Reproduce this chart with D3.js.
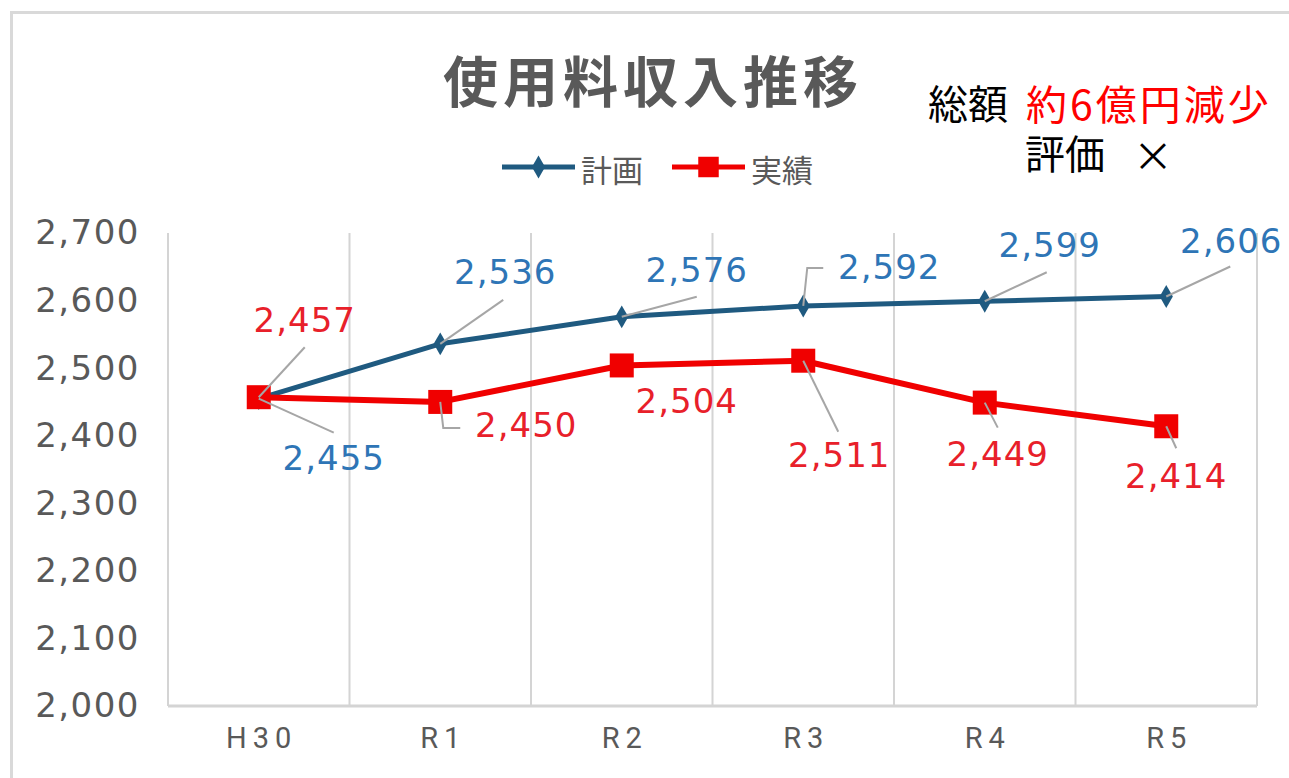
<!DOCTYPE html>
<html>
<head>
<meta charset="utf-8">
<script src="https://cdn.jsdelivr.net/npm/d3@7"></script>
<style>
  body { margin: 0; background: #fff; }
  text { font-family: "DejaVu Sans", sans-serif; }
  .jp { font-family: "Noto Sans CJK JP", sans-serif; }
</style>
</head>
<body>
<div id="chart"></div>
<script>
// data
var years = ["H30", "R1", "R2", "R3", "R4", "R5"];
var plan = [2455, 2536, 2576, 2592, 2599, 2606];
var actual = [2457, 2450, 2504, 2511, 2449, 2414];
var yTicks = [2000, 2100, 2200, 2300, 2400, 2500, 2600, 2700];

// label placement relative to each point: [dx, dy] of text, leader points
var planLabelPos = [
  {t: [75, 59], lead: [[75, 34]]},
  {t: [65, -72], lead: [[63, -44]]},
  {t: [75, -47], lead: [[75, -20]]},
  {t: [86, -39], lead: [[4, -38], [20, -38]]},
  {t: [65, -56], lead: [[62, -29]]},
  {t: [65, -56], lead: [[64, -30]]}
];
var actualLabelPos = [
  {t: [46, -77], lead: [[46, -50]]},
  {t: [86, 23], lead: [[3, 26], [20, 26]]},
  {t: [65, 35], lead: []},
  {t: [36, 94], lead: [[35, 71]]},
  {t: [13, 51], lead: [[13, 25]]},
  {t: [10, 50], lead: [[10, 22]]}
];

var W = 1289, H = 778;
var margin = {top: 233, right: 32, bottom: 72, left: 168};

var svg = d3.select("#chart")
  .append("svg")
    .attr("width", W)
    .attr("height", H);

// chart frame
svg.append("rect")
  .attr("x", 11.5).attr("y", 12.5)
  .attr("width", W + 20).attr("height", H + 20)
  .attr("fill", "#fff")
  .attr("stroke", "#d9d9d9")
  .attr("stroke-width", 3);

var x = d3.scaleBand()
  .domain(years)
  .range([margin.left, W - margin.right])
  .paddingInner(0).paddingOuter(0);

var y = d3.scaleLinear()
  .domain([2000, 2700])
  .range([H - margin.bottom, margin.top]);

var cx = function(i) { return x(years[i]) + x.bandwidth() / 2; };

// vertical gridlines on category boundaries
var bounds = years.map(function(d) { return x(d); }).concat([x.range()[1]]);
svg.append("g")
  .selectAll("line")
  .data(bounds)
  .enter()
  .append("line")
    .attr("x1", d => d).attr("x2", d => d)
    .attr("y1", y(2700)).attr("y2", y(2000))
    .attr("stroke", "#d4d4d4")
    .attr("stroke-width", 2);

// bottom axis line
svg.append("line")
  .attr("x1", margin.left).attr("x2", x.range()[1])
  .attr("y1", y(2000)).attr("y2", y(2000))
  .attr("stroke", "#d4d4d4")
  .attr("stroke-width", 3);

// y axis labels
var yAxis = svg.append("g")
  .attr("transform", "translate(" + margin.left + ",0)")
  .call(d3.axisLeft(y).tickValues(yTicks).tickFormat(d3.format(",")).tickSize(0).tickPadding(28));
yAxis.select(".domain").remove();
yAxis.selectAll("text")
  .attr("fill", "#595959")
  .style("font-size", "34px")
  .style("letter-spacing", "1.5px")
  .style("font-family", "DejaVu Sans, sans-serif");

// x axis labels
var xAxis = svg.append("g")
  .attr("transform", "translate(0," + y(2000) + ")")
  .call(d3.axisBottom(x).tickSize(0).tickPadding(21));
xAxis.select(".domain").remove();
xAxis.selectAll("text")
  .attr("fill", "#595959")
  .style("font-size", "29px")
  .style("letter-spacing", "6px")
  .style("font-family", "Roboto, sans-serif")
  .attr("dx", "3px");

// title
svg.append("text")
  .attr("class", "jp")
  .attr("x", 653).attr("y", 78)
  .attr("text-anchor", "middle")
  .attr("dominant-baseline", "central")
  .attr("fill", "#595959")
  .style("font-size", "55px")
  .style("font-weight", "bold")
  .style("letter-spacing", "5px")
  .text("使用料収入推移");

// legend
var legend = [
  {name: "計画", color: "#1f5a80", shape: d3.symbolDiamond, size: 150, x: 502},
  {name: "実績", color: "#f00000", shape: d3.symbolSquare, size: 420, x: 672}
];
var lg = svg.append("g").selectAll("g").data(legend).enter().append("g");
lg.append("line")
  .attr("x1", d => d.x).attr("x2", d => d.x + 73)
  .attr("y1", 167).attr("y2", 167)
  .attr("stroke", d => d.color).attr("stroke-width", 5);
lg.append("path")
  .attr("d", d => d3.symbol().type(d.shape).size(d.size)())
  .attr("transform", d => "translate(" + (d.x + 36.5) + ",167)")
  .attr("fill", d => d.color);
lg.append("text")
  .attr("class", "jp")
  .attr("x", d => d.x + 79).attr("y", 168)
  .attr("dominant-baseline", "central")
  .attr("fill", "#595959")
  .style("font-size", "31px")
  .text(d => d.name);

// annotation
svg.append("text")
  .attr("class", "jp")
  .attr("x", 928).attr("y", 102)
  .attr("dominant-baseline", "central")
  .attr("fill", "#000")
  .style("font-size", "40px")
  .text("総額");
svg.append("text")
  .attr("class", "jp")
  .attr("x", 1026).attr("y", 102)
  .attr("dominant-baseline", "central")
  .attr("fill", "#ff0000")
  .style("font-size", "41px")
  .style("letter-spacing", "3px")
  .text("約6億円減少");
svg.append("text")
  .attr("class", "jp")
  .attr("x", 1025).attr("y", 152)
  .attr("dominant-baseline", "central")
  .attr("fill", "#000")
  .style("font-size", "40px")
  .text("評価");
svg.append("text")
  .attr("class", "jp")
  .attr("x", 1153).attr("y", 154)
  .attr("text-anchor", "middle")
  .attr("dominant-baseline", "central")
  .attr("fill", "#000")
  .style("font-size", "40px")
  .text("×");

// lines
var line = d3.line()
  .x(function(d, i) { return cx(i); })
  .y(function(d) { return y(d); });

svg.append("path")
  .datum(plan)
  .attr("d", line)
  .attr("fill", "none")
  .attr("stroke", "#1f5a80")
  .attr("stroke-width", 5)
  .attr("stroke-linejoin", "round");

svg.append("g")
  .selectAll("path")
  .data(plan)
  .enter()
  .append("path")
    .attr("d", d3.symbol().type(d3.symbolDiamond).size(150)())
    .attr("transform", (d, i) => "translate(" + cx(i) + "," + y(d) + ")")
    .attr("fill", "#1f5a80");

svg.append("path")
  .datum(actual)
  .attr("d", line)
  .attr("fill", "none")
  .attr("stroke", "#f00000")
  .attr("stroke-width", 6)
  .attr("stroke-linejoin", "round");

svg.append("g")
  .selectAll("rect")
  .data(actual)
  .enter()
  .append("rect")
    .attr("x", (d, i) => cx(i) - 12)
    .attr("y", d => y(d) - 12)
    .attr("width", 24).attr("height", 24)
    .attr("fill", "#f00000");

// data labels with leader lines
function drawLabels(values, pos, color) {
  var g = svg.append("g");
  values.forEach(function(v, i) {
    var px = cx(i), py = y(v), p = pos[i];
    if (p.lead.length) {
      var pts = [[px, py]].concat(p.lead.map(l => [px + l[0], py + l[1]]));
      g.append("path")
        .attr("d", d3.line()(pts))
        .attr("fill", "none")
        .attr("stroke", "#a6a6a6")
        .attr("stroke-width", 2);
    }
    g.append("text")
      .attr("x", px + p.t[0]).attr("y", py + p.t[1])
      .attr("text-anchor", "middle")
      .attr("dy", "0.36em")
      .attr("fill", color)
      .style("font-size", "34px")
      .style("letter-spacing", "1px")
      .text(d3.format(",")(v));
  });
}
drawLabels(plan, planLabelPos, "#2e75b6");
drawLabels(actual, actualLabelPos, "#e8202a");
</script>
</body>
</html>
